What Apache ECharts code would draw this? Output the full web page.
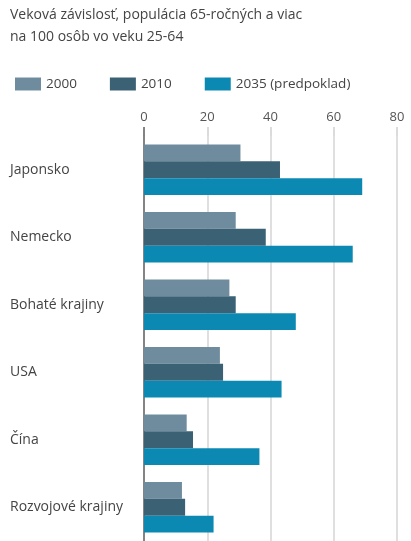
<!DOCTYPE html>
<html>
<head>
<meta charset="utf-8">
<script src="https://cdn.jsdelivr.net/npm/echarts@6/dist/echarts.min.js"></script>
<style>
  html, body { margin: 0; padding: 0; background: #fff; }
  #chart { width: 411px; height: 541px; }
</style>
</head>
<body>
<div id="chart"></div>
<script>
// Old-age dependency: people aged 65+ per 100 people aged 25-64
const categories = ['Japonsko', 'Nemecko', 'Bohaté krajiny', 'USA', 'Čína', 'Rozvojové krajiny'];
const values2000 = [30.5, 29, 27, 24, 13.5, 12];
const values2010 = [43, 38.5, 29, 25, 15.5, 13];
const values2035 = [69, 66, 48, 43.5, 36.5, 22];
const seriesNames = ['2000', '2010', '2035 (predpoklad)'];
const xTicks = [0, 20, 40, 60, 80];

const colors = ['#6f8c9e', '#3b6175', '#0b89b3'];
const font = '"Open Sans", "DejaVu Sans", sans-serif';

const chart = echarts.init(document.getElementById('chart'), null, { renderer: 'canvas' });

chart.setOption({
  animation: false,
  backgroundColor: '#fff',
  color: colors,
  textStyle: { fontFamily: font },
  title: {
    text: 'Veková závislosť, populácia 65-ročných a viac\nna 100 osôb vo veku 25-64',
    left: 10,
    top: 4,
    padding: 0,
    textStyle: { fontFamily: font, fontSize: 14, fontWeight: 'normal', color: '#444', lineHeight: 22 }
  },
  legend: {
    data: seriesNames,
    left: 10,
    top: 72,
    itemWidth: 26,
    itemHeight: 13,
    itemGap: 33,
    icon: 'rect',
    textStyle: { fontFamily: font, fontSize: 13.5, color: '#444' }
  },
  grid: { left: 144, right: 14, top: 136, bottom: -5, containLabel: false },
  xAxis: [{
    type: 'value',
    position: 'top',
    min: xTicks[0],
    max: xTicks[xTicks.length - 1],
    interval: 20,
    axisLine: { show: false },
    axisTick: { show: true, length: 9, lineStyle: { color: '#cfcfcf', width: 1.5 } },
    axisLabel: { margin: 12, fontSize: 13, color: '#555', fontFamily: font },
    splitLine: { show: true, lineStyle: { color: '#d4d4d4', width: 1.5 } }
  }, {
    // dark extension of the zero line above the plot
    type: 'value',
    position: 'top',
    min: xTicks[0],
    max: xTicks[xTicks.length - 1],
    axisLine: { show: false },
    axisTick: { show: true, length: 9, customValues: [0], lineStyle: { color: '#666', width: 1.5 } },
    axisLabel: { show: false },
    splitLine: { show: false }
  }],
  yAxis: {
    type: 'category',
    data: categories,
    inverse: true,
    axisLine: { show: true, lineStyle: { color: '#666', width: 1.5 } },
    axisTick: { show: false },
    axisLabel: { align: 'left', margin: 134, fontSize: 14, color: '#444', fontFamily: font }
  },
  series: [
    { name: seriesNames[0], type: 'bar', data: values2000, barGap: '0%', barCategoryGap: '25%', z: 3 },
    { name: seriesNames[1], type: 'bar', data: values2010, barGap: '0%', barCategoryGap: '25%', z: 3 },
    { name: seriesNames[2], type: 'bar', data: values2035, barGap: '0%', barCategoryGap: '25%', z: 3 }
  ]
});
</script>
</body>
</html>
